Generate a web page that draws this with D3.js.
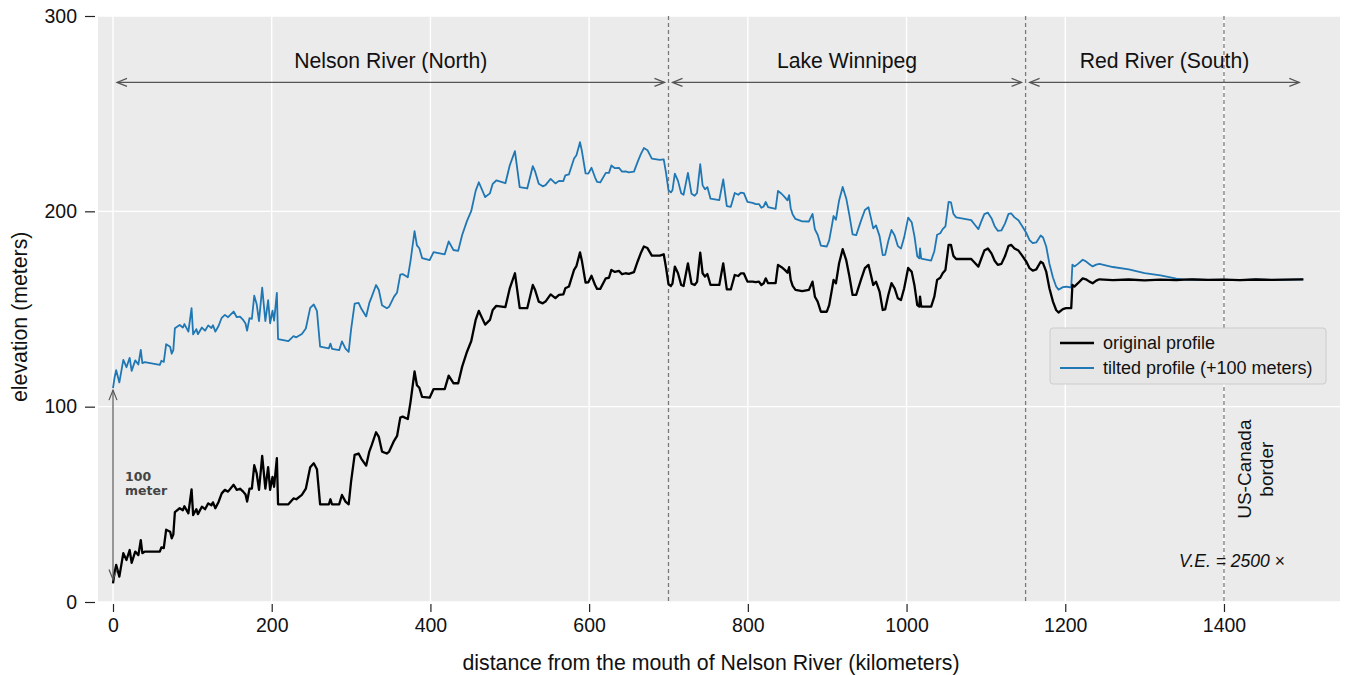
<!DOCTYPE html>
<html>
<head>
<meta charset="utf-8">
<script src="https://cdn.jsdelivr.net/npm/d3@7"></script>
<style>
  body { margin: 0; background: #ffffff; }
  text { font-family: "Liberation Sans", Arial, Helvetica, sans-serif; }
</style>
</head>
<body>
<div id="chart"></div>
<script>
// distance along the profile (km from the mouth of Nelson River)
const distance = [
  0, 2, 4, 8, 13, 17, 21, 23.5, 28, 32,
  35, 37, 40, 59, 61, 64, 67, 72, 74, 76,
  78, 84, 88, 90, 95, 99, 101, 105, 107, 112,
  116, 120, 124, 126, 129, 133, 137, 141, 145, 152,
  156, 160, 164, 167, 169, 172, 175, 178, 181, 184,
  188, 192, 195.5, 198, 201, 203, 206.5, 208, 221, 227.5,
  231, 238, 243, 248.5, 253, 257, 261, 272, 274, 276,
  285, 288.5, 293, 297, 300, 304.5, 309.5, 313, 319, 323,
  326, 331.5, 335, 339, 345, 348, 354, 358, 362, 365,
  371.5, 375, 380, 383, 386, 389.5, 399, 404, 418, 423,
  429, 435, 440, 446, 451.5, 457, 461, 469, 475, 478.5,
  483, 494.5, 500, 506.5, 512.5, 522, 529, 532, 536.5, 541.5,
  545, 551.5, 557.5, 562, 567.5, 570, 574.5, 581, 584, 588.5,
  591, 595.5, 599, 603, 607.5, 610, 614, 621, 625, 628,
  632.5, 637.5, 641.5, 646, 650, 656.5, 661, 665, 669, 673.5,
  679, 689, 694, 697, 700, 703, 705, 708, 712, 716,
  719, 724.5, 729, 733, 736, 740, 743, 746, 749, 753,
  764, 769, 773.5, 778.5, 783.5, 788, 791, 795, 799.5, 806,
  810, 814, 817, 820, 822.5, 825.5, 835, 838, 842.5, 846.5,
  850, 852, 854, 856.5, 860, 868.5, 877, 881.5, 884.5, 888,
  892, 899.5, 902.5, 905.5, 908, 911, 915, 919.5, 924, 928,
  932, 936.5, 942.5, 947.5, 952, 955, 958, 961.5, 966, 970,
  973, 977, 981, 985, 989, 993, 997, 1002, 1006.5, 1010,
  1013.5, 1016, 1017, 1018.5, 1031, 1035, 1038.5, 1042.5, 1045.5, 1049,
  1053, 1056, 1059, 1062.5, 1081.5, 1086.5, 1090.5, 1094, 1098, 1102.5,
  1107, 1111, 1115, 1119.5, 1124, 1128.5, 1132, 1136, 1141, 1145,
  1151, 1155, 1159, 1163.5, 1169, 1172, 1176, 1180, 1184.5, 1188.5,
  1191.5, 1197, 1201, 1207.5, 1209, 1211.5, 1216, 1222, 1226, 1230.5,
  1234.5, 1239, 1243, 1260, 1280, 1300, 1320, 1340, 1350, 1360,
  1380, 1400, 1420, 1440, 1460, 1480, 1500
];

// original elevation profile (m)
const original = [
  9.5, 15, 19, 13, 25, 21.5, 26.6, 20, 25.8, 24,
  31.7, 25, 25.8, 25.8, 28, 27.6, 37, 36, 32.6, 34.5,
  46, 48, 47, 49, 45.4, 57.7, 44.5, 47.5, 45, 48.8,
  47.5, 50.5, 49.5, 51, 48, 51.2, 55.6, 57.4, 56.5, 60,
  57.4, 58, 56.5, 55, 51.4, 58, 58, 70, 66, 57.4,
  74.8, 58, 69, 57.4, 64, 59, 73.6, 50, 50, 53,
  52.6, 54.8, 58, 69, 71, 68, 50, 50, 52.6, 50,
  50, 54.8, 51.4, 50, 61.6, 75.3, 76, 73.3, 69.8, 77,
  80.3, 86.9, 84.5, 77, 76, 77, 82.4, 85, 94.4, 94.9,
  93.7, 102.6, 118, 111, 109.7, 105, 104.6, 109, 109, 115.9,
  112, 112, 120.5, 128, 133.6, 144.4, 149, 142, 144.4, 149.5,
  151.6, 151, 160.6, 168.3, 150.4, 150.4, 162.3, 159.7, 153.8, 152.9,
  153.8, 157.5, 155.6, 157.2, 157.5, 160.6, 161.5, 170, 172, 179,
  174.4, 163.5, 163.7, 167, 162.3, 160.3, 160.3, 165.7, 166, 170,
  169, 169.5, 167.8, 168.3, 168, 168.9, 174.2, 178.5, 182, 181.2,
  177.3, 177.3, 178, 171, 162.7, 161.8, 163, 171.7, 168.3, 162.3,
  161.8, 173.4, 163, 162.3, 163.9, 178.9, 168.3, 166.6, 167.9, 162.3,
  162.3, 173.4, 160, 160, 167.4, 166.9, 168.2, 168.2, 164, 164,
  163.7, 164, 162.3, 163.2, 165.7, 163.2, 163.2, 172.6, 171.4, 170,
  168.6, 171.4, 164.9, 161.8, 159.8, 159.2, 159.8, 164, 156.3, 153.8,
  148.6, 148.6, 152, 158.9, 164.9, 163.2, 173.4, 180.6, 175, 166.6,
  157.2, 157.2, 164.9, 170.9, 172.6, 167.5, 162.3, 164, 158.9, 149.5,
  149.8, 157.2, 163.2, 160.6, 155.5, 154.6, 160.6, 171, 169, 162,
  152, 151.2, 156.3, 151.2, 151.2, 156.3, 164.9, 166, 168.3, 170,
  182.8, 182.8, 177.2, 175.6, 175.6, 173.4, 171.7, 175.6, 179.9, 181,
  178.5, 174.7, 172.6, 173.1, 177, 182.3, 182.8, 181, 179.9, 177.7,
  174.2, 170.9, 169.6, 170.3, 174.2, 173.4, 169.1, 160.6, 153.8, 149.5,
  148.2, 149.9, 150.4, 150.4, 162.3, 161.5, 163.2, 165.7, 165.2, 164,
  163.2, 164.5, 165.2, 164.8, 165.1, 164.7, 165, 164.8, 165, 165.1,
  164.9, 165, 164.8, 165.1, 164.9, 165, 165.2
];

// tilted profile (m)
const tilted = [
  109.5, 114.9, 118.7, 112.4, 124, 120.2, 125, 118.3, 123.7, 121.6,
  129.1, 122.3, 122.8, 121.4, 123.5, 122.9, 132, 130.7, 127.1, 128.9,
  140.2, 141.8, 140.5, 142.3, 138.4, 150.4, 137, 139.7, 137.1, 140.5,
  138.9, 141.6, 140.3, 141.7, 138.4, 141.3, 145.5, 147, 145.8, 148.7,
  145.8, 146.1, 144.4, 142.6, 138.9, 145.3, 145, 156.8, 152.6, 143.8,
  160.9, 143.8, 154.5, 142.7, 149.1, 144, 158.3, 134.6, 133.6, 136.1,
  135.5, 137.2, 140, 150.6, 152.3, 149, 130.7, 129.9, 132.3, 129.6,
  128.9, 133.4, 129.7, 128, 139.4, 152.7, 153.1, 150.1, 146.2, 153.1,
  156.2, 162.3, 159.7, 151.9, 150.4, 151.2, 156.2, 158.5, 167.6, 167.9,
  166.2, 174.8, 189.9, 182.6, 181.1, 176.1, 175, 179.1, 178, 184.6,
  180.2, 179.8, 187.9, 195, 200.2, 210.5, 214.9, 207.3, 209.2, 214.1,
  215.8, 214.4, 223.6, 230.8, 212.4, 211.7, 223.1, 220.3, 214.1, 212.8,
  213.4, 216.6, 214.3, 215.6, 215.5, 218.4, 218.9, 227, 228.7, 235.4,
  230.6, 219.4, 219.3, 222.3, 217.3, 215.1, 214.8, 219.7, 219.7, 223.5,
  222.1, 222.3, 220.3, 220.4, 219.9, 220.3, 225.2, 229.2, 232.4, 231.3,
  227, 226.3, 226.6, 219.4, 210.8, 209.7, 210.8, 219.3, 215.6, 209.3,
  208.5, 219.7, 209, 208, 209.4, 224.1, 213.3, 211.3, 212.4, 206.5,
  205.7, 216.4, 202.7, 202.3, 209.4, 208.5, 209.6, 209.3, 204.8, 204.3,
  203.7, 203.7, 201.8, 202.5, 204.8, 202.1, 201.3, 210.5, 209, 207.3,
  205.6, 208.3, 201.6, 198.4, 196.1, 194.9, 194.8, 198.7, 190.8, 188,
  182.5, 182, 185.1, 191.8, 197.6, 195.7, 205.6, 212.5, 206.6, 197.9,
  188.2, 187.8, 195.1, 200.7, 202.1, 196.8, 191.3, 192.8, 187.3, 177.6,
  177.7, 184.8, 190.5, 187.6, 182.2, 181, 186.7, 196.8, 194.4, 187.2,
  176.9, 175.9, 181, 175.8, 174.8, 179.6, 188, 188.8, 190.9, 192.3,
  204.8, 204.6, 198.8, 196.9, 195.5, 192.9, 190.9, 194.6, 198.6, 199.3,
  196.5, 192.4, 190, 190.2, 193.7, 198.7, 198.9, 196.9, 195.4, 192.9,
  188.9, 185.3, 183.7, 184.1, 187.6, 186.6, 182, 173.2, 166.1, 161.5,
  159.9, 161.2, 161.4, 161, 172.7, 171.8, 173.1, 175.2, 174.4, 172.9,
  171.8, 172.7, 173.1, 171.5, 170.3, 168.4, 167.2, 165.5, 165, 165.1,
  164.9, 165, 164.8, 165.1, 164.9, 165, 165.2
];

const xTicks = [0, 200, 400, 600, 800, 1000, 1200, 1400];
const yTicks = [0, 100, 200, 300];

// river sections along the profile
const regionNames = ["Nelson River (North)", "Lake Winnipeg", "Red River (South)"];
const regionBounds = [0, 700, 1150, 1500];
const borderKm = 1400;
const scaleBar = [10, 110];   // "100 meter" reference arrow (m)
const legendLabels = ["original profile", "tilted profile (+100 meters)"];

const WIDTH = 1348;
const HEIGHT = 675;
const PLOT = { left: 98, right: 1340, top: 16, bottom: 602 };

const black = "#000000";
const blue = "#1f77b4";
const annotGray = "#555555";
const FONT = '"Liberation Sans", Arial, sans-serif';

const svg = d3.select("#chart").append("svg")
  .attr("width", WIDTH)
  .attr("height", HEIGHT);

const x = d3.scaleLinear().domain([-18.9, 1546.2]).range([PLOT.left, PLOT.right]);
const y = d3.scaleLinear().domain([0, 300]).range([PLOT.bottom, PLOT.top]);

// plot background
svg.append("rect")
  .attr("x", PLOT.left).attr("y", PLOT.top)
  .attr("width", PLOT.right - PLOT.left).attr("height", PLOT.bottom - PLOT.top)
  .attr("fill", "#ebebeb");

// grid
svg.append("g").selectAll("line").data(xTicks).enter().append("line")
  .attr("x1", d => x(d)).attr("x2", d => x(d))
  .attr("y1", PLOT.top).attr("y2", PLOT.bottom)
  .attr("stroke", "#ffffff").attr("stroke-width", 1.4);
svg.append("g").selectAll("line").data(yTicks).enter().append("line")
  .attr("x1", PLOT.left).attr("x2", PLOT.right)
  .attr("y1", d => y(d)).attr("y2", d => y(d))
  .attr("stroke", "#ffffff").attr("stroke-width", 1.4);

// axes, offset from the plot area
const xAxis = svg.append("g")
  .attr("transform", `translate(0,${PLOT.bottom + 2})`)
  .call(d3.axisBottom(x).tickValues(xTicks).tickSize(8).tickPadding(6).tickFormat(d3.format("d")));
const yAxis = svg.append("g")
  .attr("transform", `translate(${PLOT.left - 3},0)`)
  .call(d3.axisLeft(y).tickValues(yTicks).tickSize(10).tickPadding(8).tickFormat(d3.format("d")));
[xAxis, yAxis].forEach(a => {
  a.select(".domain").remove();
  a.selectAll(".tick line").attr("stroke", "#222").attr("stroke-width", 1.2);
  a.selectAll(".tick text")
    .attr("fill", "#111")
    .style("font-family", FONT)
    .style("font-size", "19.5px");
});

svg.append("text")
  .attr("x", 711).attr("y", 670)
  .attr("text-anchor", "middle")
  .style("font-size", "21.3px")
  .attr("fill", "#111")
  .text("distance from the mouth of Nelson River (kilometers)");
svg.append("text")
  .attr("transform", `translate(27,${y(146)}) rotate(-90)`)
  .attr("text-anchor", "middle")
  .style("font-size", "21.3px")
  .attr("fill", "#111")
  .text("elevation (meters)");

// section boundaries and border
svg.append("g").selectAll("line").data([regionBounds[1], regionBounds[2], borderKm]).enter().append("line")
  .attr("x1", d => x(d)).attr("x2", d => x(d))
  .attr("y1", PLOT.top).attr("y2", PLOT.bottom)
  .attr("stroke", "#7a7a7a").attr("stroke-width", 1.3)
  .attr("stroke-dasharray", "4,3");

// profiles
const line = d3.line()
  .x((d, i) => x(distance[i]))
  .y(d => y(d));

svg.append("path")
  .datum(tilted)
  .attr("d", line)
  .attr("fill", "none")
  .attr("stroke", blue)
  .attr("stroke-width", 1.8)
  .attr("stroke-linejoin", "round");

svg.append("path")
  .datum(original)
  .attr("d", line)
  .attr("fill", "none")
  .attr("stroke", black)
  .attr("stroke-width", 2.3)
  .attr("stroke-linejoin", "round");

// open arrow heads (tip at the end of the line)
const defs = svg.append("defs");
defs.append("marker")
  .attr("id", "head")
  .attr("viewBox", "-12 -6 14 12")
  .attr("refX", 0).attr("refY", 0)
  .attr("markerUnits", "userSpaceOnUse")
  .attr("markerWidth", 14).attr("markerHeight", 12)
  .attr("orient", "auto-start-reverse")
  .append("path")
  .attr("d", "M-10,-4 L0,0 L-10,4")
  .attr("fill", "none")
  .attr("stroke", annotGray)
  .attr("stroke-width", 1.2);

// section arrows and names
const sections = regionNames.map((name, i) => ({ name, start: regionBounds[i], end: regionBounds[i + 1] }));
const arrowY = y(266);
const shrink = 4;
svg.append("g").selectAll("line").data(sections).enter().append("line")
  .attr("x1", d => x(d.start) + shrink).attr("x2", d => x(d.end) - shrink)
  .attr("y1", arrowY).attr("y2", arrowY)
  .attr("stroke", annotGray).attr("stroke-width", 1.2)
  .attr("marker-start", "url(#head)").attr("marker-end", "url(#head)");
svg.append("g").selectAll("text").data(sections).enter().append("text")
  .attr("x", d => (x(d.start) + x(d.end)) / 2)
  .attr("y", arrowY - 14)
  .attr("text-anchor", "middle")
  .style("font-size", "21.2px")
  .attr("fill", "#111")
  .text(d => d.name);

// 100 meter reference arrow
svg.append("line")
  .attr("x1", x(0)).attr("x2", x(0))
  .attr("y1", y(scaleBar[0]) - 3).attr("y2", y(scaleBar[1]) + 3)
  .attr("stroke", annotGray).attr("stroke-width", 1.2)
  .attr("marker-start", "url(#head)").attr("marker-end", "url(#head)");
const sb = svg.append("text")
  .attr("x", x(0) + 12)
  .attr("y", y(62))
  .attr("fill", "#444")
  .style("font-family", '"DejaVu Sans", sans-serif')
  .style("font-weight", "bold")
  .style("font-size", "12.5px");
sb.append("tspan").attr("x", x(0) + 12).text("100");
sb.append("tspan").attr("x", x(0) + 12).attr("dy", 14).text("meter");

// border label
const bl = svg.append("text")
  .attr("transform", `translate(${x(borderKm) + 49},${y(68)}) rotate(-90)`)
  .attr("text-anchor", "middle")
  .style("font-size", "19px")
  .attr("fill", "#111");
bl.append("tspan").attr("x", 0).attr("dy", -22).text("US-Canada");
bl.append("tspan").attr("x", 0).attr("dy", 22).text("border");

// vertical exaggeration
svg.append("text")
  .attr("x", x(borderKm) + 8).attr("y", y(18))
  .attr("text-anchor", "middle")
  .style("font-size", "17.5px")
  .style("font-style", "italic")
  .attr("fill", "#111")
  .text("V.E. = 2500 \u00d7");

// legend
const legend = svg.append("g").attr("transform", "translate(1050,328)");
legend.append("rect")
  .attr("width", 276).attr("height", 56).attr("rx", 3)
  .attr("fill", "#e6e6e6").attr("stroke", "#cccccc");
const items = legend.selectAll("g.item").data(legendLabels).enter().append("g")
  .attr("class", "item")
  .attr("transform", (d, i) => `translate(10,${15 + i * 25})`);
items.append("line")
  .attr("x1", 0).attr("x2", 34)
  .attr("stroke", (d, i) => i === 0 ? black : blue)
  .attr("stroke-width", (d, i) => i === 0 ? 2.3 : 1.8);
items.append("text")
  .attr("x", 43).attr("y", 6)
  .style("font-size", "18px")
  .attr("fill", "#111")
  .text(d => d);
</script>
</body>
</html>
